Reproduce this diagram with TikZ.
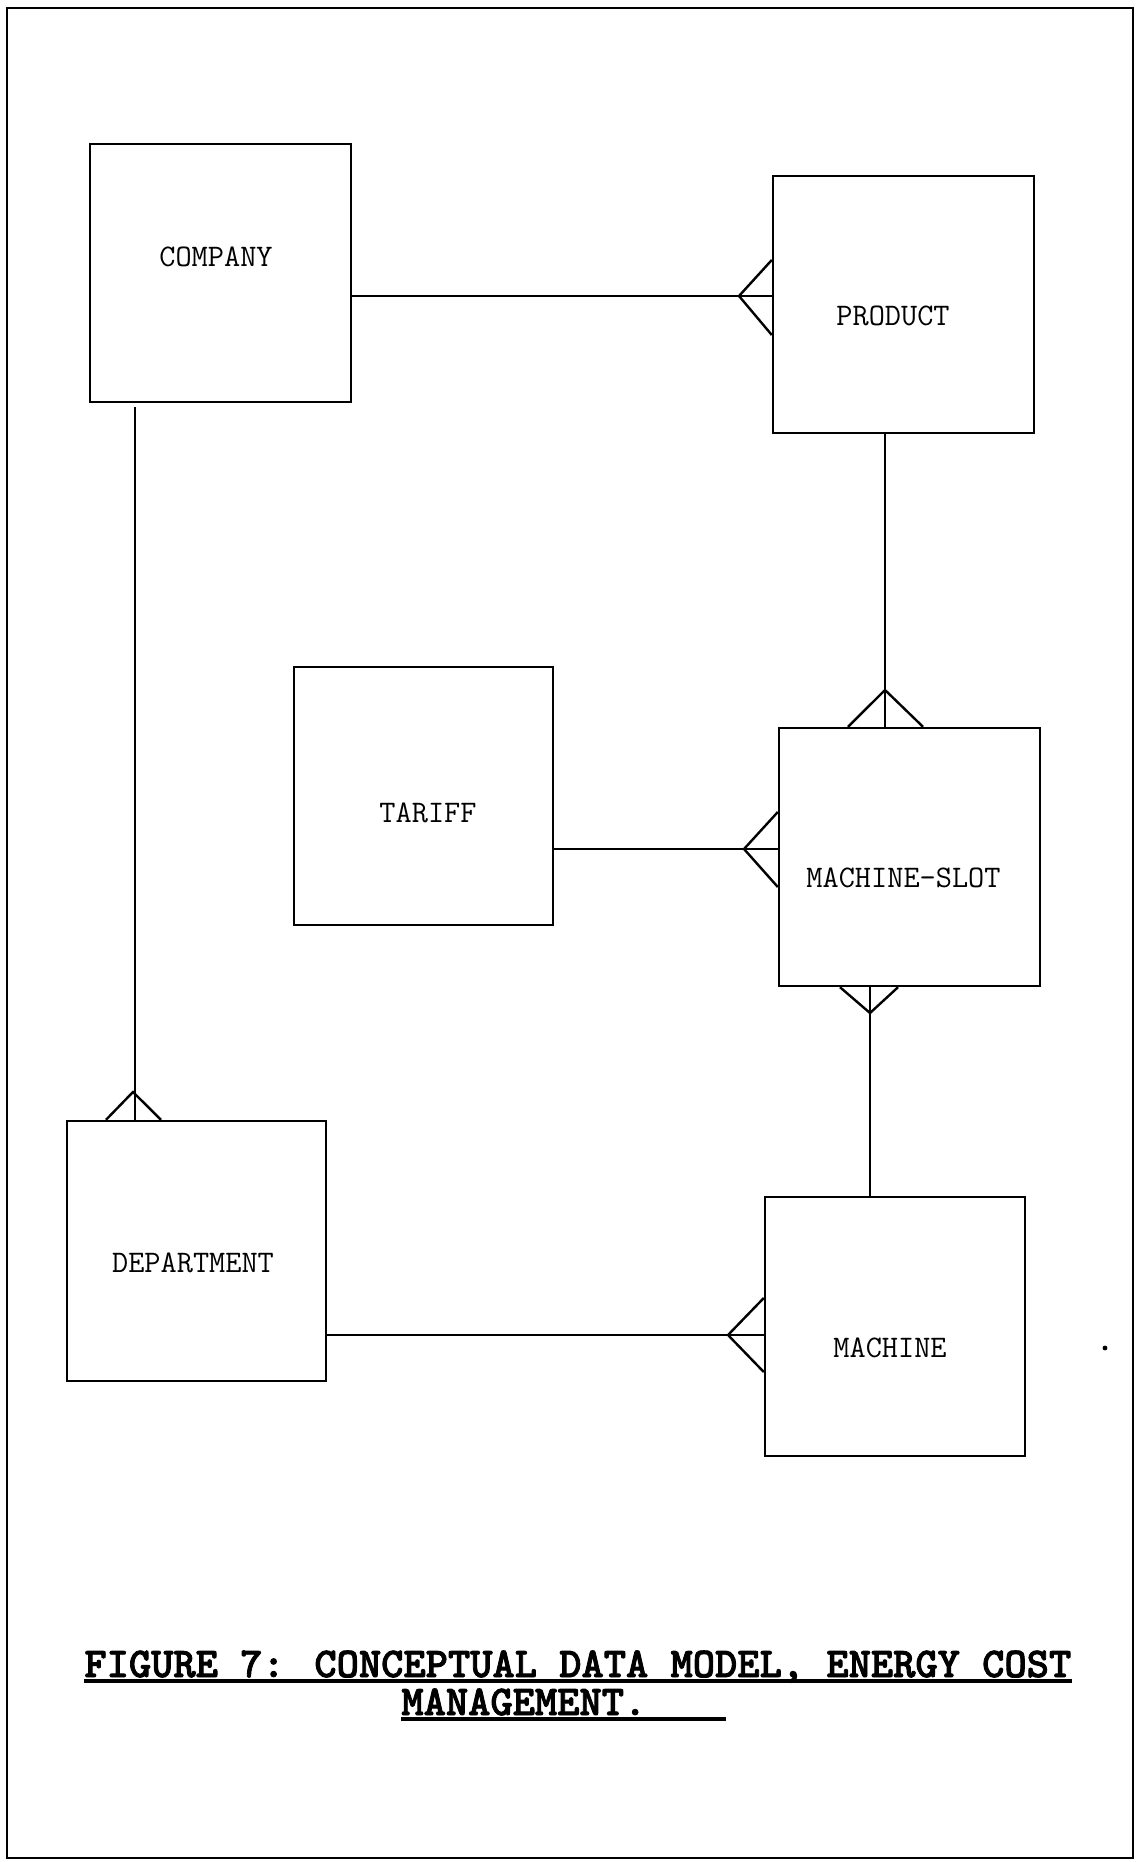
\documentclass[tikz,border=0pt]{standalone}
\usepackage{fontspec}
\newfontfamily\capfont[FakeBold=2]{lmmonolt10-bold.otf}
\usetikzlibrary{calc}
\begin{document}
\begin{tikzpicture}[x=0.5pt,y=-0.5pt,line join=miter,
  entity/.style={draw,line width=1.2pt,inner sep=0pt},
  lbl/.style={font=\ttfamily\fontsize{15.7}{18}\selectfont,anchor=base,inner sep=0pt},
  rel/.style={line width=1.2pt},
  captxt/.style={font=\capfont\fontsize{21.2}{24}\selectfont,anchor=base west,inner sep=0pt,text depth=0pt},
  uline/.style={line width=1.6pt}]
\useasboundingbox (0,0) rectangle (1135,1862);
\draw[line width=1pt] (7,8) rectangle (1133,1858);
% entities
\node[entity,minimum width=130.5pt,minimum height=129pt] (company) at (220.5,273) {};
\node[entity,minimum width=130.5pt,minimum height=128.5pt] (product) at (903.5,304.5) {};
\node[entity,minimum width=129.5pt,minimum height=129pt] (tariff) at (423.5,796) {};
\node[entity,minimum width=130.5pt,minimum height=129pt] (slot) at (909.5,857) {};
\node[entity,minimum width=129.5pt,minimum height=130pt] (department) at (196.5,1251) {};
\node[entity,minimum width=130pt,minimum height=129.5pt] (machine) at (895,1326.5) {};
% labels
\node[lbl] (companyl) at (216,266) {COMPANY};
\node[lbl] (productl) at (893,325) {PRODUCT};
\node[lbl] (tariffl) at (428,822) {TARIFF};
\node[lbl] (slotl) at (903.5,887) {MACHINE-SLOT};
\node[lbl] (departmentl) at (193,1272) {DEPARTMENT};
\node[lbl] (machinel) at (890,1357) {MACHINE};
% company - product
\draw[rel] (company.east |- 0,296) -- (product.west |- 0,296);
\draw[rel] (product.west |- 0,260) -- (739,296) -- (product.west |- 0,335);
% product - machine-slot
\draw[rel] (885,0 |- product.south) -- (885,0 |- slot.north);
\draw[rel] (848,0 |- slot.north) -- (885,690) -- (923,0 |- slot.north);
% tariff - machine-slot
\draw[rel] (tariff.east |- 0,849) -- (slot.west |- 0,849);
\draw[rel] (slot.west |- 0,812) -- (744,849) -- (slot.west |- 0,887);
% company - department
\draw[rel] (135,407) -- (135,0 |- department.north);
\draw[rel] (106,0 |- department.north) -- (133,1092) -- (161,0 |- department.north);
% machine-slot - machine
\draw[rel] (870,0 |- slot.south) -- (870,0 |- machine.north);
\draw[rel] (840,0 |- slot.south) -- (870,1013) -- (898,0 |- slot.south);
% department - machine
\draw[rel] (department.east |- 0,1335) -- (machine.west |- 0,1335);
\draw[rel] (machine.west |- 0,1298) -- (728,1335) -- (machine.west |- 0,1372);
% stray dot
\fill (1105,1348) circle (1.2pt);
% caption
\node[captxt] (cap1) at (84,1677) {FIGURE 7: CONCEPTUAL DATA MODEL, ENERGY COST};
\node[captxt] (cap2) at (401,1715) {MANAGEMENT.};
\draw[uline] (cap1.base west |- 0,1681) -- (cap1.base east |- 0,1681);
\draw[uline] (cap2.base west |- 0,1719) -- (726,1719);
\end{tikzpicture}
\end{document}
